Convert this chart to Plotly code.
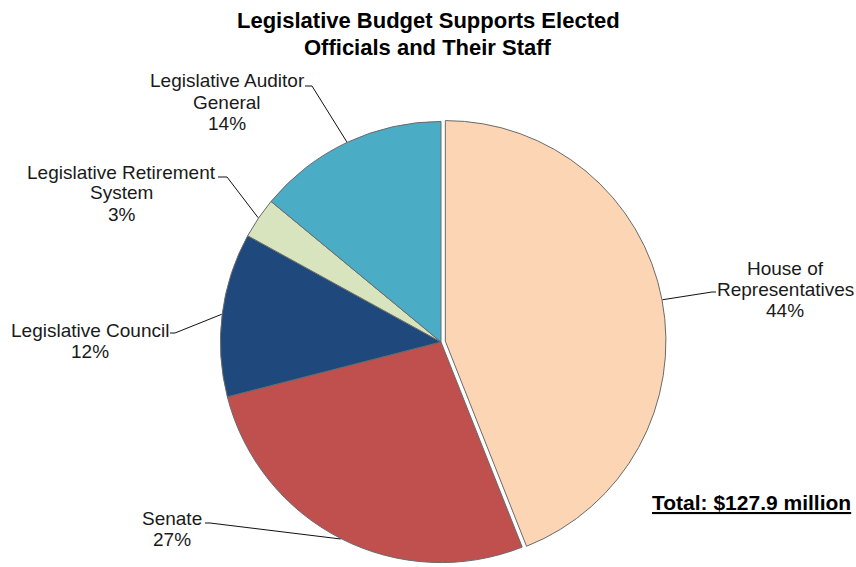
import numpy as np
import plotly.graph_objects as go

# ---- data ----
categories = ["House of Representatives", "Senate", "Legislative Council",
              "Legislative Retirement System", "Legislative Auditor General"]
label_lines = [["House of", "Representatives"], ["Senate"], ["Legislative Council"],
               ["Legislative Retirement", "System"], ["Legislative Auditor", "General"]]
shares = [44, 27, 12, 3, 14]
total_text = "Total: $127.9 million"
title_lines = ["Legislative Budget Supports Elected", "Officials and Their Staff"]

# ---- style / layout ----
colors = ["#FCD5B5", "#C0504D", "#1F497D", "#D7E4BD", "#4BACC6"]
pulls = [0.02, 0, 0, 0, 0]
W, H = 856, 567
FONT = "Arial, Liberation Sans, sans-serif"

# desired pie centre / radius on the page (px)
PCX, PCY, PR = 441, 342, 227
dom_w = 2 * PR / W
dom_x = [PCX / W - dom_w / 2, PCX / W + dom_w / 2]
ycen = 1 - PCY / H
dom_y = [0.0, min(1.0, 2 * ycen)]

# label block centres (px), line pitch, and leader-line elbow points (px)
label_xy = [(785, 289), (172, 529), (90, 341), (122, 193), (227, 102)]
LINE = 21
elbow_a = [(716, 292), (205, 523), (170, 333), (218, 177), (305, 86)]
elbow_b = [(712, 292), (210, 523), (175, 333), (227, 177), (312, 86)]

fig = go.Figure(go.Pie(
    labels=categories, values=shares, sort=False, direction="clockwise",
    rotation=0, pull=pulls, textinfo="none", hoverinfo="label+percent",
    marker=dict(colors=colors, line=dict(color="#6a6a6a", width=1)),
    domain=dict(x=dom_x, y=dom_y), showlegend=False,
))

# pie geometry as plotly computes it (px)
bw = (dom_x[1] - dom_x[0]) * W
bh = (dom_y[1] - dom_y[0]) * H
r = min(bw, bh) / (2 + 2 * max(pulls))
cx = (dom_x[0] + dom_x[1]) / 2 * W
cy = H - (dom_y[0] + dom_y[1]) / 2 * H
vals = np.array(shares, dtype=float)
mids = (np.cumsum(vals) - vals / 2) / vals.sum() * 2 * np.pi

def pp(x, y):
    return x / W, 1 - y / H

shapes = []
annotations = []

def add_text(x, y, text, size, xanchor="center", bold=False, color="#1a1a1a"):
    ax, ay = pp(x, y)
    annotations.append(dict(x=ax, y=ay, xref="paper", yref="paper",
                            text=f"<b>{text}</b>" if bold else text,
                            showarrow=False, xanchor=xanchor, yanchor="middle",
                            font=dict(family=FONT, size=size, color=color)))

for i in range(len(categories)):
    rr = r * (1 + pulls[i]) + 0.5
    sx = cx + rr * np.sin(mids[i])
    sy = cy - rr * np.cos(mids[i])
    p0 = pp(*elbow_a[i]); p1 = pp(*elbow_b[i]); p2 = pp(sx, sy)
    shapes.append(dict(type="path", xref="paper", yref="paper",
                       path=f"M {p0[0]},{p0[1]} L {p1[0]},{p1[1]} L {p2[0]},{p2[1]}",
                       line=dict(color="#111111", width=1)))
    lines = label_lines[i] + [f"{shares[i]}%"]
    n = len(lines)
    for k, t in enumerate(lines):
        add_text(label_xy[i][0], label_xy[i][1] + (k - (n - 1) / 2) * LINE, t, 19)

for k, t in enumerate(title_lines):
    add_text(428, 21 + 26 * k, t, 22, bold=True, color="#000000")

add_text(853, 502, f"<u>{total_text}</u>", 21, xanchor="right", bold=True,
         color="#000000")

fig.update_layout(width=W, height=H, margin=dict(l=0, r=0, t=0, b=0),
                  paper_bgcolor="white", plot_bgcolor="white",
                  shapes=shapes, annotations=annotations)
fig.write_html("out.html", config={"displayModeBar": False},
               post_script="document.body.style.margin='0';"
                           "document.body.style.overflow='hidden';")
